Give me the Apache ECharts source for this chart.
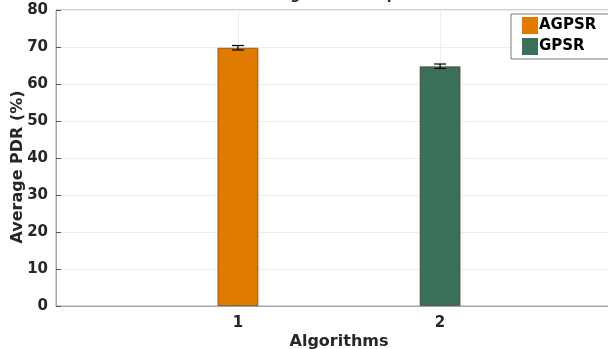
<!DOCTYPE html>
<html><head><meta charset="utf-8">
<script src="https://cdn.jsdelivr.net/npm/echarts@6/dist/echarts.min.js"></script>
<style>html,body{margin:0;padding:0;background:#fff}#c{width:608px;height:349px}</style>
</head><body><div id="c"></div>
<script>
const algorithms = ['AGPSR', 'GPSR'];
const positions = [1, 2];
const pdrValues = [69.8, 64.8];
const pdrErrors = [0.6, 0.6];
const colors = ['#E07B00', '#3A7058'];
const yTicks = [0, 10, 20, 30, 40, 50, 60, 70, 80];

const chart = echarts.init(document.getElementById('c'));
const txt = '#262626';
const series = [];
algorithms.forEach((name, i) => {
  series.push({
    name: name, type: 'bar', barWidth: 41, barGap: '-100%',
    data: [[positions[i], pdrValues[i]]],
    itemStyle: { color: colors[i], borderColor: 'rgba(60,40,20,0.55)', borderWidth: 1 }
  });
});
series.push({
  type: 'custom', silent: true, z: 10,
  data: positions.map((p, i) => [p, pdrValues[i] - pdrErrors[i], pdrValues[i] + pdrErrors[i]]),
  renderItem: function (params, api) {
    const lo = api.coord([api.value(0), api.value(1)]);
    const hi = api.coord([api.value(0), api.value(2)]);
    const w = 6;
    const st = { stroke: '#000', lineWidth: 1.2 };
    return { type: 'group', children: [
      { type: 'line', shape: { x1: lo[0], y1: lo[1], x2: hi[0], y2: hi[1] }, style: st },
      { type: 'line', shape: { x1: lo[0] - w, y1: lo[1], x2: lo[0] + w, y2: lo[1] }, style: st },
      { type: 'line', shape: { x1: hi[0] - w, y1: hi[1], x2: hi[0] + w, y2: hi[1] }, style: st }
    ]};
  }
});

chart.setOption({
  animation: false,
  backgroundColor: '#fff',
  title: { text: 'Average PDR Comparison', left: 240, top: -17,
    textStyle: { fontFamily: 'DejaVu Sans', fontSize: 14, fontWeight: 'bold', color: txt } },
  legend: {
    data: algorithms, orient: 'vertical', left: 511, top: 14,
    icon: 'rect', itemWidth: 16, itemHeight: 17, itemGap: 4,
    itemStyle: { borderWidth: 0 },
    borderColor: '#7a7a7a', borderWidth: 1, padding: [3, 30, 4, 11], backgroundColor: '#fff',
    textStyle: { fontFamily: 'DejaVu Sans', fontSize: 15, fontWeight: 'bold', color: '#000', padding: [0, 0, 0, -4] }
  },
  grid: { left: 56, right: -14, top: 10, bottom: 43, show: true, borderColor: '#a6a6a6', borderWidth: 1,
    outerBoundsMode: 'none', containLabel: false },
  xAxis: {
    type: 'value', min: 0.1, max: 2.9,
    name: 'Algorithms', nameLocation: 'middle', nameGap: 28, nameMoveOverlap: false,
    nameTextStyle: { fontFamily: 'DejaVu Sans', fontSize: 16, fontWeight: 'bold', color: txt },
    axisLine: { show: true, lineStyle: { color: '#a6a6a6' } },
    axisTick: { show: true, inside: true, length: 5, customValues: positions, lineStyle: { color: '#555' } },
    axisLabel: { customValues: positions, fontFamily: 'DejaVu Sans', fontSize: 15, fontWeight: 'bold', color: txt, margin: 10 },
    splitLine: { show: true, lineStyle: { color: '#ececec' } }
  },
  yAxis: {
    type: 'value', min: 0, max: 80, interval: 10,
    name: 'Average PDR (%)', nameLocation: 'middle', nameGap: 30, nameMoveOverlap: false,
    nameTextStyle: { fontFamily: 'DejaVu Sans', fontSize: 16, fontWeight: 'bold', color: txt, padding: [0, 18, 0, 0] },
    axisLine: { show: true, lineStyle: { color: '#a6a6a6' } },
    axisTick: { show: true, inside: true, length: 5, lineStyle: { color: '#555' } },
    axisLabel: { fontFamily: 'DejaVu Sans', fontSize: 15, fontWeight: 'bold', color: txt, margin: 8,
      formatter: v => yTicks.includes(v) ? String(v) : '' },
    splitLine: { show: true, lineStyle: { color: '#ececec' } }
  },
  series: series
});
</script></body></html>
